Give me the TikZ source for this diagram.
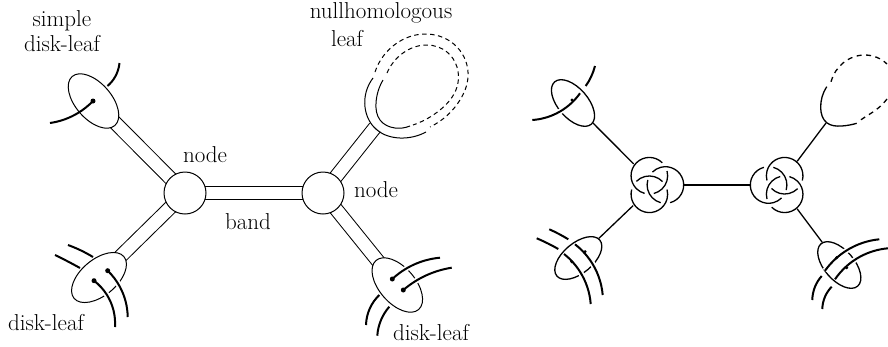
\documentclass[tikz,border=0pt]{standalone}
\usetikzlibrary{shapes.geometric,backgrounds,hobby}
\tikzset{
  lbl/.style={inner sep=0pt,align=center,font=\fontsize{23}{25}\selectfont},
  hub/.style={circle,draw,fill=white,line width=1pt,minimum size=42pt,inner sep=0pt},
  disk/.style={ellipse,draw,inner sep=0pt,minimum width=#1},
  leafa/.style={disk=65pt,minimum height=36pt,line width=1pt,fill=white},
  leafb/.style={disk=56pt,minimum height=30pt,line width=1.3pt},
  bandline/.style={double=white,double distance=12.5pt,line width=1pt},
  strand/.style={line width=2pt,use Hobby shortcut},
  over/.style={strand,preaction={draw=white,line width=5.5pt}},
  thinloop/.style={line width=1pt,use Hobby shortcut},
  knotball/.style={circle,inner sep=0pt,minimum size=59pt},
  edge/.style={line width=1.3pt},
  curveedge/.style={line width=1.3pt,use Hobby shortcut},
  knotline/.style={line width=1.3pt},
  dashloop/.style={dash pattern=on 4.5pt off 3.5pt},
}
\newcommand\bknot[2]{%
  \begin{scope}[shift={(#1)},rotate=#2]
    \foreach \a in {0,120,240}{
      \draw[knotline,rotate=\a] (10.7pt,0) ++(-75:18.3pt) arc[start angle=-75,end angle=135,radius=18.3pt]
        (10.7pt,0) ++(164:18.3pt) arc[start angle=164,end angle=255,radius=18.3pt];
    }
  \end{scope}}
\newcommand\tinydot[1]{\fill (#1) circle (2.5pt);}
\newcommand\smalldot[1]{\fill (#1) circle (1.7pt);}
\begin{document}
\begin{tikzpicture}[x=1pt,y=-1pt]
\useasboundingbox (0,0) rectangle (888,346);
% ---------- left picture
\node[hub] (nL) at (185,193) {};
\node[hub] (nR) at (323,193) {};
\node[leafa,rotate=-49] (l1) at (93.5,101) {};
\node[leafa,rotate=40] (l2) at (99,277.5) {};
\node[leafa,rotate=-49] (l3) at (397.3,285) {};
\coordinate (loopfoot) at (375,127.5);
\begin{pgfonlayer}{background}
  \draw[bandline] (nL.center) -- (nR.center);
  \draw[bandline] (nL.center) -- (l1.center);
  \draw[bandline] (nL.center) -- (l2.center);
  \draw[bandline] (nR.center) -- (l3.center);
  \draw[bandline] (nR.center) -- (loopfoot);
\end{pgfonlayer}
% nullhomologous loop
\draw[thinloop] (426,132)..(400,138)..(377,130)..(365,107)..(373,78);
\draw[thinloop,dashloop] (375,72)..(397,43)..(427,34)..(457,47)..(468,77)..(460,100)..(430,127);
\draw[thinloop] (410,126)..(395,128)..(380,120)..(376,103)..(383,80);
\draw[thinloop,dashloop] (387,73)..(403,53)..(427,45)..(447,52)..(457,67)..(457,87)..(440,110)..(413,125);
% simple disk-leaf
\draw[strand] (119.5,63)..(115,77)..(107.5,86);
\draw[strand] (93,101)..(78,113)..(50,123);
\tinydot{93,101}
% lower left leaf
\draw[strand] (68,245)..(80,250)..(93,257);
\draw[strand] (55,255)..(67,261)..(80,268);
\draw[over] (107.7,270.7)..(120,287)..(127.7,317);
\draw[over] (94,280.7)..(107,295)..(115,327);
\tinydot{107.7,270.7}
\tinydot{94,280.7}
% lower right leaf
\draw[over] (392.3,279)..(413,265)..(440,257.7);
\draw[over] (403.3,290)..(427,275)..(451.7,267.7);
\draw[strand] (379.3,295)..(370,308)..(366,325);
\draw[strand] (389.3,306.7)..(381,320)..(377.3,335.7);
\tinydot{392.3,279}
\tinydot{403.3,290}
% labels
\node[lbl] (t1) at (62,31) {simple\\disk-leaf};
\node[lbl] (t2) at (205,155) {node};
\node[lbl] (t3) at (376,190) {node};
\node[lbl] (t4) at (248,222) {band};
\node[lbl] (t5) at (46,323) {disk-leaf};
\node[lbl] (t6) at (431,333) {disk-leaf};
\node[lbl] (t7) at (381,13) {nullhomologous};
\node[lbl] (t8) at (347,39) {leaf};
% ---------- right picture
\node[knotball] (kL) at (654.7,185) {};
\node[knotball] (kR) at (779.3,185) {};
\node[leafb,rotate=-49] (r1) at (573,103) {};
\node[leafb,rotate=40] (r2) at (578.3,258) {};
\node[leafb,rotate=-49] (r3) at (839.3,265) {};
\coordinate (rfoot) at (826,123);
\bknot{kL.center}{0}
\bknot{kR.center}{180}
\draw[edge] (kL) -- (kR);
\draw[edge] (kL) -- (r1);
\draw[edge] (kL) -- (r2);
\draw[edge] (kR) -- (r3);
\draw[edge] (kR) -- (rfoot);
% right loop
\draw[curveedge] (856.7,123.3)..(841.7,126)..(826.7,122.7)..(820.7,108.3)..(826.7,86.7);
\draw[curveedge,dash pattern=on 5pt off 4.5pt] (831,81.7)..(843,63)..(865,55)..(887,64);
\draw[curveedge,dash pattern=on 5pt off 4.5pt] (887,99)..(876.7,109.3)..(866.7,116)..(858,121.7);
% right leaf strands
\draw[strand] (585.7,86)..(591,77)..(595,66);
\draw[over] (580,93.3)..(556.7,113.3)..(532.3,120);
\draw[strand] (549.3,229.3)..(559,234)..(568.3,239.3);
\draw[strand] (536.7,238.3)..(548,243.5)..(558.3,249);
\draw[over] (575,244.3)..(590,260)..(602.7,295);
\draw[over] (564,254)..(580,271.7)..(590.7,304);
\draw[over] (825,270.7)..(853.3,246.7)..(879.3,239.3);
\draw[over] (835,279.3)..(860,256.7)..(888,248.3);
\draw[strand] (821.7,276)..(815,286.7)..(812.3,300);
\draw[strand] (831.7,286.7)..(825,296.7)..(822.3,309);
\smalldot{572,100}
\smalldot{571.7,261.7}
\smalldot{585,251.7}
\smalldot{836.7,257.7}
\smalldot{846.7,267.7}
\end{tikzpicture}
\end{document}
